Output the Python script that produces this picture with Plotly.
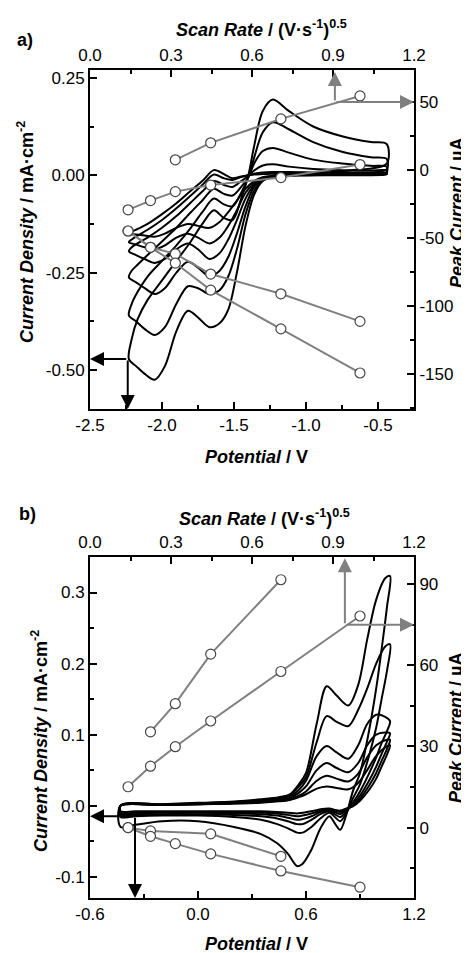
import plotly.graph_objects as go

FONT = "Liberation Sans, Arial, sans-serif"
# the page body adds an 8 px margin: draw a 461x945 figure and shift positions by 8 px
OFF = 8
W, H = 469 - OFF, 953 - OFF

# ---------------- Panel a : cyclic voltammograms ----------------
A_E_FWD = [-0.44, -0.70, -1.00, -1.20, -1.30, -1.36, -1.42, -1.48, -1.54, -1.60,
           -1.67, -1.75, -1.82, -1.90, -1.98, -2.05, -2.12, -2.18, -2.23]
A_FWD_1 = [0.002, 0.0, 0.0, -0.001, -0.005, -0.015, -0.035, -0.065, -0.095, -0.12,
           -0.135, -0.13, -0.125, -0.135, -0.15, -0.158, -0.155, -0.152, -0.15]
A_FWD_2 = [0.003, 0.001, 0.0, -0.002, -0.006, -0.02, -0.045, -0.09, -0.13, -0.16,
           -0.175, -0.16, -0.15, -0.16, -0.18, -0.19, -0.185, -0.178, -0.172]
A_FWD_3 = [0.005, 0.002, 0.0, -0.002, -0.008, -0.025, -0.06, -0.115, -0.165, -0.2,
           -0.215, -0.19, -0.175, -0.19, -0.215, -0.225, -0.215, -0.205, -0.195]
A_FWD_4 = [0.008, 0.003, 0.001, -0.002, -0.01, -0.03, -0.08, -0.15, -0.21, -0.245,
           -0.26, -0.237, -0.222, -0.25, -0.29, -0.305, -0.29, -0.275, -0.262]
A_FWD_5 = [0.015, 0.006, 0.002, -0.002, -0.012, -0.04, -0.10, -0.19, -0.26, -0.295,
           -0.305, -0.29, -0.285, -0.33, -0.39, -0.41, -0.395, -0.375, -0.36]
A_FWD_6 = [0.03, 0.012, 0.004, -0.002, -0.015, -0.05, -0.13, -0.25, -0.345, -0.38,
           -0.39, -0.365, -0.348, -0.40, -0.49, -0.525, -0.51, -0.49, -0.472]

A_E_REV = [-2.23, -2.21, -2.17, -2.10, -2.00, -1.90, -1.80, -1.72, -1.64, -1.57, -1.51,
           -1.45, -1.40, -1.36, -1.30, -1.23, -1.12, -0.95, -0.75, -0.55, -0.44]
A_REV_1 = [-0.15, -0.145, -0.138, -0.125, -0.10, -0.072, -0.04, -0.015, 0.013, 0.003, -0.008,
           -0.003, 0.0, 0.002, 0.003, 0.004, 0.004, 0.004, 0.004, 0.004, 0.004]
A_REV_2 = [-0.172, -0.165, -0.155, -0.14, -0.115, -0.085, -0.052, -0.025, 0.002, -0.008, -0.012,
           -0.005, 0.0, 0.004, 0.007, 0.008, 0.008, 0.007, 0.007, 0.006, 0.006]
A_REV_3 = [-0.195, -0.185, -0.175, -0.16, -0.135, -0.105, -0.07, -0.042, -0.015, -0.025, -0.03,
           -0.015, -0.002, 0.012, 0.025, 0.028, 0.022, 0.016, 0.013, 0.012, 0.012]
A_REV_4 = [-0.262, -0.245, -0.23, -0.205, -0.17, -0.135, -0.095, -0.065, -0.035, -0.048, -0.052,
           -0.03, -0.005, 0.03, 0.062, 0.07, 0.058, 0.04, 0.03, 0.024, 0.022]
A_REV_5 = [-0.36, -0.33, -0.30, -0.26, -0.22, -0.18, -0.135, -0.095, -0.06, -0.075, -0.08,
           -0.045, -0.005, 0.045, 0.11, 0.136, 0.118, 0.085, 0.06, 0.046, 0.042]
A_REV_6 = [-0.472, -0.42, -0.37, -0.32, -0.27, -0.22, -0.17, -0.125, -0.09, -0.11, -0.115,
           -0.06, 0.0, 0.075, 0.165, 0.194, 0.165, 0.125, 0.10, 0.085, 0.08]

# Panel a : peak current vs sqrt(scan rate)
A_SR_4 = [0.316, 0.447, 0.707, 1.0]
A_SR_6 = [0.141, 0.224, 0.316, 0.447, 0.707, 1.0]
A_PK_OX2 = [7.4, 19.9, 37.5, 54.4]
A_PK_OX1 = [-29.4, -22.6, -16.0, -11.2, -5.7, 3.9]
A_PK_RED1 = [-45.0, -57.0, -61.8, -76.7, -91.2, -111.5]
A_PK_RED2 = [-45.0, -57.0, -68.6, -88.5, -117.0, -149.5]

# ---------------- Panel b : cyclic voltammograms ----------------
B_E_FWD = [-0.43, -0.20, 0.00, 0.20, 0.35, 0.45, 0.51, 0.56, 0.60, 0.66, 0.715,
           0.77, 0.835, 0.89, 0.94, 0.99, 1.04, 1.067]
B_FWD_1 = [0.0, 0.001, 0.002, 0.003, 0.004, 0.006, 0.008, 0.012, 0.016, 0.024, 0.027,
           0.025, 0.023, 0.032, 0.05, 0.07, 0.082, 0.085]
B_FWD_2 = [0.0, 0.001, 0.002, 0.003, 0.005, 0.007, 0.009, 0.014, 0.02, 0.035, 0.042,
           0.038, 0.034, 0.045, 0.068, 0.085, 0.092, 0.093]
B_FWD_3 = [0.0, 0.001, 0.002, 0.004, 0.006, 0.008, 0.011, 0.018, 0.027, 0.05, 0.06,
           0.053, 0.047, 0.06, 0.085, 0.10, 0.103, 0.102]
B_FWD_4 = [0.0, 0.001, 0.003, 0.005, 0.007, 0.010, 0.013, 0.022, 0.035, 0.07, 0.084,
           0.075, 0.066, 0.085, 0.115, 0.128, 0.125, 0.119]
B_FWD_5 = [0.0, 0.002, 0.003, 0.005, 0.008, 0.011, 0.015, 0.027, 0.04, 0.09, 0.126,
           0.118, 0.112, 0.135, 0.165, 0.20, 0.224, 0.227]
B_FWD_6 = [0.0, 0.002, 0.004, 0.006, 0.009, 0.012, 0.016, 0.03, 0.046, 0.116, 0.168,
           0.155, 0.141, 0.17, 0.234, 0.29, 0.32, 0.323]

B_E_REV = [1.067, 1.05, 1.02, 0.99, 0.95, 0.90, 0.86, 0.825, 0.79, 0.76, 0.73, 0.68,
           0.63, 0.58, 0.55, 0.50, 0.44, 0.35, 0.20, 0.00, -0.20, -0.35, -0.43]
B_REV_1 = [0.085, 0.072, 0.055, 0.038, 0.022, 0.007, -0.001, -0.004, -0.007, -0.006, -0.004,
           -0.005, -0.008, -0.010, -0.011, -0.010, -0.009, -0.008, -0.008, -0.008, -0.008, -0.008, -0.008]
B_REV_2 = [0.093, 0.08, 0.063, 0.046, 0.028, 0.010, 0.0, -0.005, -0.009, -0.007, -0.005,
           -0.007, -0.011, -0.014, -0.015, -0.013, -0.011, -0.010, -0.009, -0.009, -0.009, -0.010, -0.010]
B_REV_3 = [0.102, 0.09, 0.073, 0.055, 0.035, 0.014, 0.002, -0.006, -0.012, -0.009, -0.006,
           -0.009, -0.015, -0.019, -0.020, -0.017, -0.014, -0.012, -0.011, -0.010, -0.010, -0.011, -0.012]
B_REV_4 = [0.119, 0.105, 0.088, 0.068, 0.045, 0.02, 0.004, -0.008, -0.016, -0.012, -0.008,
           -0.012, -0.020, -0.026, -0.026, -0.022, -0.018, -0.015, -0.013, -0.012, -0.012, -0.013, -0.014]
B_REV_5 = [0.227, 0.19, 0.15, 0.11, 0.07, 0.03, 0.01, -0.01, -0.022, -0.016, -0.010,
           -0.018, -0.030, -0.038, -0.038, -0.032, -0.026, -0.020, -0.016, -0.014, -0.014, -0.015, -0.016]
B_REV_6 = [0.323, 0.28, 0.22, 0.165, 0.105, 0.046, 0.02, -0.012, -0.034, -0.025, -0.015,
           -0.032, -0.062, -0.082, -0.085, -0.068, -0.053, -0.040, -0.030, -0.022, -0.022, -0.027, -0.030]

# Panel b : peak current vs sqrt(scan rate)
B_SR_OX2 = [0.224, 0.316, 0.447, 0.707]
B_PK_OX2 = [35.4, 45.8, 64.1, 91.6]
B_SR_6 = [0.141, 0.224, 0.316, 0.447, 0.707, 1.0]
B_PK_OX1 = [15.1, 22.7, 29.9, 39.4, 57.7, 78.2]
B_SR_RED1 = [0.141, 0.224, 0.447, 0.707]
B_PK_RED1 = [0.0, -1.2, -2.3, -10.6]
B_PK_RED2 = [0.0, -3.2, -5.9, -9.7, -16.0, -22.0]

# ---------------- tick labels ----------------
A_X_TICKS = [-2.5, -2.0, -1.5, -1.0, -0.5]
A_X_LABELS = ["-2.5", "-2.0", "-1.5", "-1.0", "-0.5"]
A_Y_TICKS = [-0.5, -0.25, 0.0, 0.25]
A_Y_LABELS = ["-0.50", "-0.25", "0.00", "0.25"]
A_Y2_TICKS = [-150, -100, -50, 0, 50]
A_Y2_LABELS = ["-150", "-100", "-50", "0", "50"]
TOP_TICKS = [0.0, 0.3, 0.6, 0.9, 1.2]
TOP_LABELS = ["0.0", "0.3", "0.6", "0.9", "1.2"]
B_X_TICKS = [-0.6, 0.0, 0.6, 1.2]
B_X_LABELS = ["-0.6", "0.0", "0.6", "1.2"]
B_Y_TICKS = [-0.1, 0.0, 0.1, 0.2, 0.3]
B_Y_LABELS = ["-0.1", "0.0", "0.1", "0.2", "0.3"]
B_Y2_TICKS = [0, 30, 60, 90]
B_Y2_LABELS = ["0", "30", "60", "90"]

GRAY = "rgb(128,128,128)"

fig = go.Figure()


def add_cv(ef, jf, er, jr, xa, ya):
    xs = list(ef) + list(er[1:]) + [ef[0]]
    ys = list(jf) + list(jr[1:]) + [jf[0]]
    fig.add_trace(go.Scatter(x=xs, y=ys, mode="lines", xaxis=xa, yaxis=ya,
                             line=dict(color="black", width=2, shape="spline", smoothing=0.9),
                             showlegend=False, hoverinfo="skip"))


def add_peak(sr, pk, xa, ya):
    fig.add_trace(go.Scatter(x=sr, y=pk, mode="lines+markers", xaxis=xa, yaxis=ya,
                             line=dict(color=GRAY, width=2),
                             marker=dict(symbol="circle", size=10, color="white",
                                         line=dict(color="rgb(70,70,70)", width=1.2)),
                             showlegend=False, hoverinfo="skip"))


for jf, jr in [(A_FWD_1, A_REV_1), (A_FWD_2, A_REV_2), (A_FWD_3, A_REV_3),
               (A_FWD_4, A_REV_4), (A_FWD_5, A_REV_5), (A_FWD_6, A_REV_6)]:
    add_cv(A_E_FWD, jf, A_E_REV, jr, "x", "y")
for jf, jr in [(B_FWD_1, B_REV_1), (B_FWD_2, B_REV_2), (B_FWD_3, B_REV_3),
               (B_FWD_4, B_REV_4), (B_FWD_5, B_REV_5), (B_FWD_6, B_REV_6)]:
    add_cv(B_E_FWD, jf, B_E_REV, jr, "x3", "y3")

add_peak(A_SR_4, A_PK_OX2, "x2", "y2")
add_peak(A_SR_6, A_PK_OX1, "x2", "y2")
add_peak(A_SR_6, A_PK_RED1, "x2", "y2")
add_peak(A_SR_6, A_PK_RED2, "x2", "y2")
add_peak(B_SR_OX2, B_PK_OX2, "x4", "y4")
add_peak(B_SR_6, B_PK_OX1, "x4", "y4")
add_peak(B_SR_RED1, B_PK_RED1, "x4", "y4")
add_peak(B_SR_6, B_PK_RED2, "x4", "y4")


def fx(px):
    return (px - OFF) / W


def fy(py):
    return 1 - (py - OFF) / H


XD = [fx(90), fx(414)]
YDA = [fy(409), fy(70)]
YDB = [fy(898), fy(557)]

TF = dict(family=FONT, size=17, color="black")


def ax(**kw):
    d = dict(showline=True, linewidth=2, linecolor="black", ticks="inside", ticklen=7,
             tickwidth=1.8, tickcolor="black", showgrid=False, zeroline=False,
             tickfont=TF, tickmode="array", fixedrange=True, automargin=False)
    d.update(kw)
    return d


def mn(t0, dt):
    return dict(ticks="inside", ticklen=4, tickwidth=1.5, tickcolor="black",
                tickmode="linear", tick0=t0, dtick=dt, showgrid=False)


fig.update_layout(
    width=W, height=H, autosize=False,
    margin=dict(l=0, r=0, t=0, b=0, pad=0),
    paper_bgcolor="white", plot_bgcolor="white",
    xaxis=ax(domain=XD, anchor="y", range=[-2.5, -0.25], tickvals=A_X_TICKS,
             ticktext=A_X_LABELS, minor=mn(-2.5, 0.25)),
    yaxis=ax(domain=YDA, anchor="x", range=[-0.60, 0.27], tickvals=A_Y_TICKS,
             ticktext=A_Y_LABELS, minor=mn(-0.5, 0.125)),
    xaxis2=ax(overlaying="x", side="top", anchor="y", range=[0, 1.2], tickvals=TOP_TICKS,
              ticktext=TOP_LABELS, minor=mn(0, 0.15)),
    yaxis2=ax(overlaying="y", side="right", anchor="x", range=[-176, 73.5],
              tickvals=A_Y2_TICKS, ticktext=A_Y2_LABELS, minor=mn(-150, 25)),
    xaxis3=ax(domain=XD, anchor="y3", range=[-0.6, 1.2], tickvals=B_X_TICKS,
              ticktext=B_X_LABELS, minor=mn(-0.6, 0.3)),
    yaxis3=ax(domain=YDB, anchor="x3", range=[-0.13, 0.35], tickvals=B_Y_TICKS,
              ticktext=B_Y_LABELS, minor=mn(-0.1, 0.05)),
    xaxis4=ax(overlaying="x3", side="top", anchor="y3", range=[0, 1.2], tickvals=TOP_TICKS,
              ticktext=TOP_LABELS, minor=mn(0, 0.15)),
    yaxis4=ax(overlaying="y3", side="right", anchor="x3", range=[-26, 100],
              tickvals=B_Y2_TICKS, ticktext=B_Y2_LABELS, minor=mn(0, 15)),
)

TTF = dict(family=FONT, size=18, color="black")


def title(text, px, py, angle=0):
    fig.add_annotation(text=text, x=fx(px), y=fy(py), xref="paper", yref="paper",
                       xanchor="center", yanchor="middle", showarrow=False,
                       textangle=angle, font=TTF)


TOP_T = "<b><i>Scan Rate</i> / (V·s<sup>-1</sup>)<sup>0.5</sup></b>"
LEFT_T = "<b><i>Current Density</i> / mA·cm<sup>-2</sup></b>"
RIGHT_T = "<b><i>Peak Current</i> / µA</b>"
BOT_T = "<b><i>Potential</i> / V</b>"

title("<b>a)</b>", 25, 40)
title(TOP_T, 261, 28)
title(LEFT_T, 25, 232, -90)
title(RIGHT_T, 457, 213, -90)
title(BOT_T, 257, 457)

title("<b>b)</b>", 27, 514)
title(TOP_T, 264, 517)
title(LEFT_T, 39, 741, -90)
title(RIGHT_T, 456, 728, -90)
title(BOT_T, 257, 944)


def arrow(xh, yh, xt, yt, xr, yr, color):
    fig.add_annotation(x=xh, y=yh, ax=xt, ay=yt, xref=xr, yref=yr, axref=xr, ayref=yr,
                       showarrow=True, text="", arrowhead=2, arrowsize=1.4,
                       arrowwidth=2, arrowcolor=color)


# panel a arrows
arrow(-2.5, -0.472, -2.238, -0.472, "x", "y", "black")
arrow(-2.238, -0.60, -2.238, -0.472, "x", "y", "black")
arrow(0.907, 72, 0.907, 50, "x2", "y2", GRAY)
arrow(1.2, 50, 0.907, 50, "x2", "y2", GRAY)
# panel b arrows
arrow(-0.6, -0.015, -0.35, -0.015, "x3", "y3", "black")
arrow(-0.35, -0.13, -0.35, -0.015, "x3", "y3", "black")
arrow(0.944, 99.5, 0.944, 75, "x4", "y4", GRAY)
arrow(1.2, 75, 0.944, 75, "x4", "y4", GRAY)

fig.write_html("out.html")
